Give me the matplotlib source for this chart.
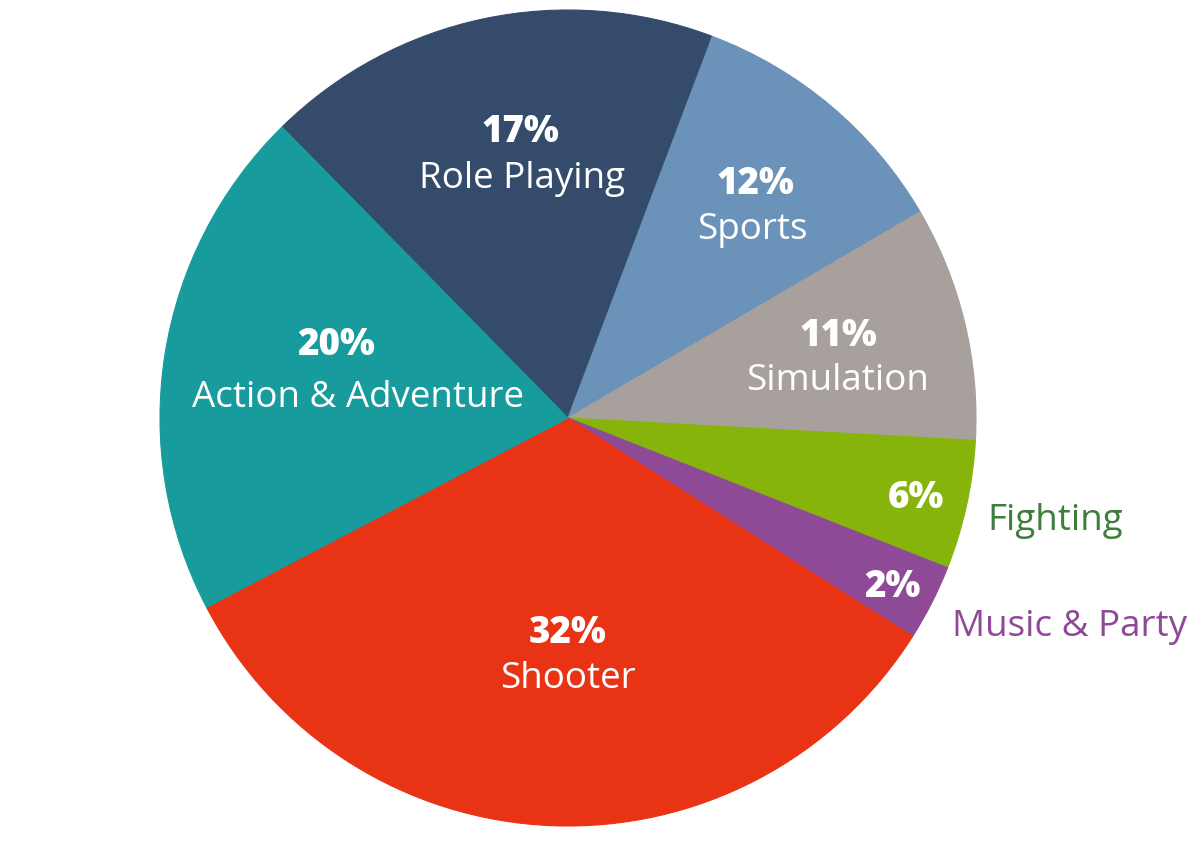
import matplotlib
matplotlib.use("Agg")
import matplotlib.pyplot as plt

# slice shares as drawn (clockwise from Role Playing)
genres = ["Role Playing", "Sports", "Simulation", "Fighting",
          "Music & Party", "Shooter", "Action & Adventure"]
shares = [18.1, 10.8, 9.3, 5.1, 3.0, 33.3, 20.3]
pct_labels = ["17%", "12%", "11%", "6%", "2%", "32%", "20%"]
colors = ["#344B6B", "#6B92B8", "#A8A09C", "#86B40A",
          "#8E4A97", "#E83315", "#179B9C"]

W, H = 1201, 855
CX, CY, R = 568, 418, 408


def px(x, y):
    return (x - CX) / R, (CY - y) / R


fig = plt.figure(figsize=(W / 100, H / 100), dpi=100)
ax = fig.add_axes([0, 0, 1, 1])
wedges, _ = ax.pie(shares, colors=colors, startangle=134.5, counterclock=False,
                   radius=1, wedgeprops=dict(linewidth=0.8))
for w in wedges:
    w.set_edgecolor(w.get_facecolor())
ax.set_xlim(-CX / R, (W - CX) / R)
ax.set_ylim((CY - H) / R, CY / R)
ax.axis("off")

font = "Open Sans"
big = 26.5
small = 26.5

# (pct x, pct baseline, name x, name baseline, name colour, name ha)
label_pos = {
    "Role Playing": (520, 142, 522, 188, "white", "center"),
    "Sports": (755, 194, 752, 239, "white", "center"),
    "Simulation": (838, 346, 838, 390, "white", "center"),
    "Fighting": (916, 508, 987, 530, "#3F7D3A", "left"),
    "Music & Party": (892, 597, 952, 636, "#8E4A97", "left"),
    "Shooter": (568, 643, 568, 688, "white", "center"),
    "Action & Adventure": (336, 355, 358, 407, "white", "center"),
}

for g, p in zip(genres, pct_labels):
    x1, y1, x2, y2, c, ha = label_pos[g]
    ax.text(*px(x1, y1), p, color="white", fontsize=big, fontweight=800,
            family=font, ha="center", va="baseline")
    ax.text(*px(x2, y2), g, color=c, fontsize=small,
            family=font, ha=ha, va="baseline")

fig.savefig("out.png", dpi=100)
